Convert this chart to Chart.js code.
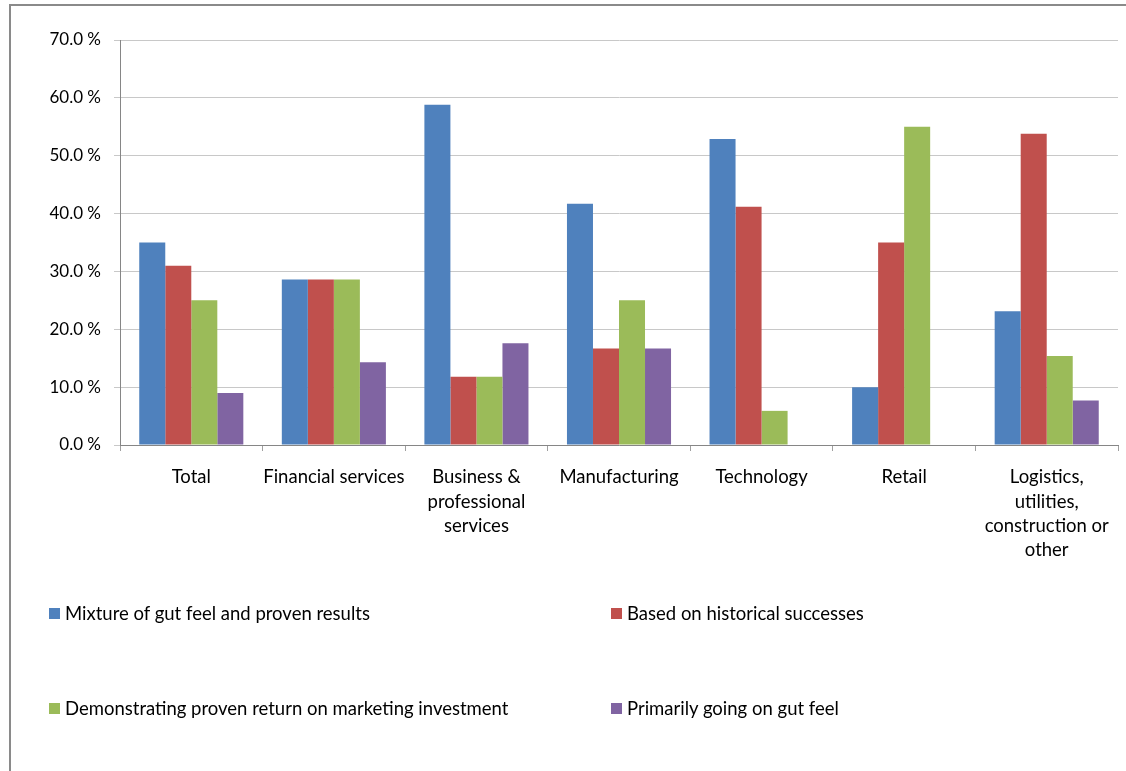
<!DOCTYPE html>
<html>
<head>
<meta charset="utf-8">
<script src="https://cdn.jsdelivr.net/npm/chart.js@4/dist/chart.umd.min.js"></script>
<style>
  html, body { margin: 0; padding: 0; background: #fff; overflow: hidden; }
  #wrap { position: relative; width: 1126px; height: 771px; }
  #frame { position: absolute; left: 9px; top: 4px; width: 1200px; height: 800px;
           border: 2px solid #8a8a8a; box-sizing: border-box; }
  #chartBox { position: absolute; left: 0; top: 0; width: 1126px; height: 771px; }
  .legend-item { position: absolute; font-family: Lato, "Open Sans", sans-serif;
                 font-size: 18.5px; color: #000; white-space: nowrap; line-height: 20px; }
  .legend-item span.box { display: inline-block; width: 11px; height: 11px;
                          margin-right: 5px; vertical-align: 1px; }
</style>
</head>
<body>
<div id="wrap">
  <div id="frame"></div>
  <div id="chartBox"><canvas id="barChart"></canvas></div>
  <div id="legend"></div>
</div>
<script>
// Survey: how marketing budgets are decided, by sector (share of respondents)
const sectors = [
  "Total",
  "Financial services",
  ["Business &", "professional", "services"],
  "Manufacturing",
  "Technology",
  "Retail",
  ["Logistics,", "utilities,", "construction or", "other"]
];

const seriesNames = [
  "Mixture of gut feel and proven results",
  "Based on historical successes",
  "Demonstrating proven return on marketing investment",
  "Primarily going on gut feel"
];

const seriesColors = ["#4F81BD", "#C0504D", "#9BBB59", "#8064A2"];

const mixtureVals    = [35.0, 28.6, 58.8, 41.7, 52.9, 10.0, 23.1];
const historicalVals = [31.0, 28.6, 11.8, 16.7, 41.2, 35.0, 53.8];
const roiVals        = [25.0, 28.6, 11.8, 25.0, 5.9, 55.0, 15.4];
const gutFeelVals    = [9.0, 14.3, 17.6, 16.7, 0, 0, 7.7];

const yTicks = [0, 10, 20, 30, 40, 50, 60, 70];

const seriesData = [mixtureVals, historicalVals, roiVals, gutFeelVals];

const datasets = seriesNames.map((name, i) => ({
  label: name,
  data: seriesData[i],
  backgroundColor: seriesColors[i],
  borderWidth: 0,
  categoryPercentage: 0.73,
  barPercentage: 1.0
}));

const xFont = { family: "Lato, 'Open Sans', sans-serif", size: 18.5, lineHeight: 1.32 };
const yFont = { family: "Lato, 'Open Sans', sans-serif", size: 17 };

const ctx = document.getElementById('barChart').getContext('2d');
new Chart(ctx, {
  type: 'bar',
  data: { labels: sectors, datasets: datasets },
  options: {
    responsive: true,
    maintainAspectRatio: false,
    animation: false,
    layout: { padding: { top: 40, right: 8, bottom: 0, left: 0 } },
    plugins: {
      legend: { display: false },
      tooltip: { enabled: false }
    },
    scales: {
      x: {
        grid: { offset: true, drawOnChartArea: false, tickLength: 6, color: '#a0a0a0' },
        border: { color: '#868686', width: 1 },
        ticks: { color: '#000', font: xFont, padding: 14, maxRotation: 0, autoSkip: false },
        afterFit: (scale) => { scale.height = 326; }
      },
      y: {
        min: 0,
        max: 70,
        afterBuildTicks: (scale) => { scale.ticks = yTicks.map(v => ({ value: v })); },
        grid: { color: '#c8c8c8', tickLength: 6, lineWidth: 1 },
        border: { color: '#868686', width: 1 },
        ticks: {
          color: '#000',
          font: yFont,
          padding: 13,
          callback: (v) => v.toFixed(1) + ' %'
        },
        afterFit: (scale) => { scale.width = 120; }
      }
    }
  }
});

// Legend in two columns below the plot
const legendPos = [
  { left: 49, top: 603 },
  { left: 611, top: 603 },
  { left: 49, top: 698 },
  { left: 611, top: 698 }
];
const legendEl = document.getElementById('legend');
seriesNames.forEach((name, i) => {
  const item = document.createElement('div');
  item.className = 'legend-item';
  item.style.left = legendPos[i].left + 'px';
  item.style.top = legendPos[i].top + 'px';
  const box = document.createElement('span');
  box.className = 'box';
  box.style.background = seriesColors[i];
  item.appendChild(box);
  item.appendChild(document.createTextNode(name));
  legendEl.appendChild(item);
});
</script>
</body>
</html>
